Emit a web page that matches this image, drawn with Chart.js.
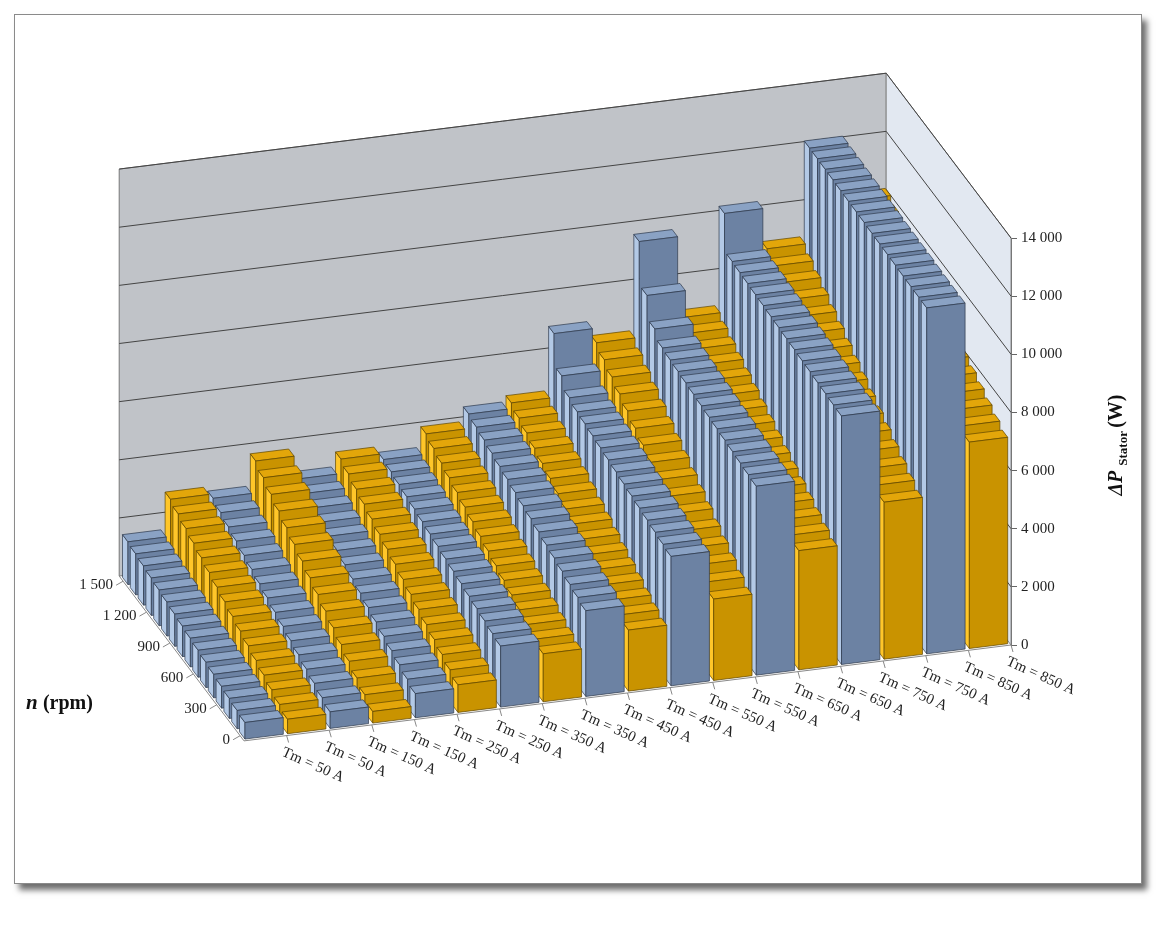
<!DOCTYPE html>
<html>
<head>
<meta charset="utf-8">
<script src="https://cdn.jsdelivr.net/npm/chart.js@4.4.1/dist/chart.umd.min.js"></script>
<style>
  body { margin: 0; background: #fff; }
  #frame { position: absolute; left: 14px; top: 14px; width: 1126px; height: 868px; border: 1px solid #8a8a8a; box-shadow: 5px 6px 6px #6e6e6e; background: #fff; }
  #wrap { position: absolute; left: 0; top: 0; width: 1159px; height: 925px; }
</style>
</head>
<body>
<div id="frame"></div>
<div id="wrap"><canvas id="chart" width="1159" height="925"></canvas></div>
<script>
// Speed rows, front to back
const nRpm = [0, 100, 200, 300, 400, 500, 600, 700, 800, 900, 1000, 1100, 1200, 1300, 1400, 1500];
const nTickRows = [0, 3, 6, 9, 12, 15];
const nTickLabels = ['0', '300', '600', '900', '1 200', '1 500'];

const tmLabels = ['Tm = 50 A', 'Tm = 50 A', 'Tm = 150 A', 'Tm = 150 A', 'Tm = 250 A', 'Tm = 250 A',
  'Tm = 350 A', 'Tm = 350 A', 'Tm = 450 A', 'Tm = 450 A', 'Tm = 550 A', 'Tm = 550 A',
  'Tm = 650 A', 'Tm = 650 A', 'Tm = 750 A', 'Tm = 750 A', 'Tm = 850 A', 'Tm = 850 A'];

const yTicks = [0, 2000, 4000, 6000, 8000, 10000, 12000, 14000];

// Stator loss (W) per column, values for n = 0 ... 1500 rpm
const lossB50  = [570, 630, 690, 750, 810, 870, 930, 990, 1050, 1110, 1170, 1230, 1290, 1350, 1410, 1470];
const lossG50  = [500, 650, 800, 950, 1100, 1250, 1400, 1550, 1700, 1850, 2000, 2150, 2300, 2450, 2600, 2750];
const lossB150 = [570, 700, 840, 970, 1110, 1240, 1380, 1510, 1650, 1780, 1920, 2050, 2190, 2320, 2460, 2600];
const lossG150 = [400, 620, 840, 1060, 1280, 1500, 1720, 1940, 2160, 2380, 2600, 2820, 3040, 3260, 3480, 3700];
const lossB250 = [830, 970, 1110, 1240, 1380, 1520, 1660, 1800, 1930, 2070, 2210, 2350, 2480, 2620, 2760, 2900];
const lossG250 = [950, 1110, 1280, 1440, 1600, 1770, 1930, 2090, 2260, 2420, 2580, 2750, 2910, 3070, 3240, 3400];
const lossB350 = [2100, 2170, 2250, 2320, 2390, 2470, 2540, 2610, 2690, 2760, 2830, 2910, 2980, 3050, 3130, 3200];
const lossG350 = [1650, 1800, 1950, 2100, 2250, 2400, 2550, 2700, 2850, 3000, 3150, 3300, 3450, 3600, 3750, 3900];
const lossB450 = [2950, 3050, 3140, 3240, 3340, 3430, 3530, 3630, 3720, 3820, 3920, 4010, 4110, 4210, 4300, 4400];
const lossG450 = [2100, 2270, 2430, 2600, 2770, 2930, 3100, 3270, 3430, 3600, 3770, 3930, 4100, 4270, 4430, 4600];
const lossB550 = [4450, 4510, 4570, 4630, 4690, 4750, 4810, 4870, 4930, 4990, 5050, 5110, 5170, 5300, 5700, 6800];
const lossG550 = [2800, 3030, 3270, 3500, 3730, 3970, 4200, 4430, 4670, 4900, 5130, 5370, 5600, 5830, 6070, 6300];
const lossB650 = [6500, 6540, 6580, 6620, 6660, 6700, 6740, 6780, 6820, 6860, 6900, 6940, 7000, 7300, 8100, 9600];
const lossG650 = [4100, 4280, 4460, 4640, 4820, 5000, 5180, 5360, 5540, 5720, 5900, 6080, 6260, 6440, 6620, 6800];
const lossB750 = [8550, 8570, 8600, 8620, 8650, 8670, 8700, 8720, 8750, 8770, 8800, 8820, 8850, 8870, 8900, 10200];
const lossG750 = [5400, 5630, 5850, 6080, 6310, 6530, 6760, 6990, 7210, 7440, 7670, 7890, 8120, 8350, 8570, 8800];
const lossB850 = [11900, 11910, 11920, 11930, 11950, 11960, 11970, 11980, 12000, 12010, 12020, 12030, 12050, 12060, 12070, 12080];
const lossG850 = [7100, 7300, 7500, 7700, 7900, 8100, 8300, 8500, 8700, 8900, 9100, 9300, 9500, 9700, 9900, 10100];

const columns = [lossB50, lossG50, lossB150, lossG150, lossB250, lossG250, lossB350, lossG350,
  lossB450, lossG450, lossB550, lossG550, lossB650, lossG650, lossB750, lossG750, lossB850, lossG850];

// Oblique projection settings
const ROW_X = -7.8, ROW_Y = -10.3, COL_SLOPE = 0.125;
const SERIF = '"Liberation Serif", "DejaVu Serif", serif';

const palette = {
  blue: { front: '#6c82a3', side: '#b3c9e6', top: '#8aa2c4', line: '#2e3a4c' },
  gold: { front: '#c99300', side: '#ffc629', top: '#e3a60a', line: '#5e4600' }
};

function fmt(v) { return String(v).replace(/\B(?=(\d{3})+(?!\d))/g, ' '); }

const bars3d = {
  id: 'bars3d',
  beforeDatasetsDraw(chart) {
    const ctx = chart.ctx, P = chart.$proj = makeProj(chart);
    const nR = nRpm.length, cL = -0.5, cR = columns.length - 0.5;
    // back wall
    poly(ctx, [P(cL, nR, 0), P(cR, nR, 0), P(cR, nR, 14000), P(cL, nR, 14000)], '#c0c3c8', '#777');
    // right side wall
    poly(ctx, [P(cR, 0, 0), P(cR, nR, 0), P(cR, nR, 14000), P(cR, 0, 14000)], '#e2e8f1', '#888');
    ctx.lineWidth = 1; ctx.strokeStyle = '#444';
    yTicks.forEach(t => {
      if (t === 0) return;
      line(ctx, [P(cL, nR, t), P(cR, nR, t), P(cR, 0, t)]);
    });
    // floor edges / n axis
    ctx.strokeStyle = '#888';
    line(ctx, [P(cL, nR, 0), P(cL, 0, 0), P(cR, 0, 0)]);
    ctx.fillStyle = '#222'; ctx.font = '15px ' + SERIF;
    ctx.textAlign = 'right'; ctx.textBaseline = 'middle';
    nTickRows.forEach((j, k) => {
      const p = P(cL, j + 0.5, 0);
      line(ctx, [p, [p[0] - 7, p[1] + 4]]);
      ctx.fillText(nTickLabels[k], p[0] - 10, p[1] + 4);
    });
    // category labels along the front edge
    ctx.textAlign = 'left';
    tmLabels.forEach((lab, i) => {
      const p = P(i + 0.5, 0, 0);
      line(ctx, [p, [p[0] + 2, p[1] + 7]]);
      ctx.save();
      ctx.translate(p[0] - 4, p[1] + 16);
      ctx.rotate(0.42);
      ctx.fillText(lab, 0, 0);
      ctx.restore();
    });
  },
  afterDatasetsDraw(chart) {
    const ctx = chart.ctx, P = chart.$proj;
    const list = [];
    columns.forEach((col, i) => col.forEach((v, j) => list.push({ i, j, v, d: i * 0.183 + j })));
    list.sort((a, b) => b.d - a.d);
    ctx.lineWidth = 0.7;
    list.forEach(b => {
      const c = palette[b.i % 2 === 0 ? 'blue' : 'gold'];
      const c0 = b.i - 0.45, c1 = b.i + 0.45, r0 = b.j + 0.15, r1 = b.j + 0.85;
      ctx.strokeStyle = c.line;
      poly(ctx, [P(c0, r0, 0), P(c0, r1, 0), P(c0, r1, b.v), P(c0, r0, b.v)], c.side);
      poly(ctx, [P(c0, r0, b.v), P(c0, r1, b.v), P(c1, r1, b.v), P(c1, r0, b.v)], c.top);
      poly(ctx, [P(c0, r0, 0), P(c1, r0, 0), P(c1, r0, b.v), P(c0, r0, b.v)], c.front);
    });
    // value axis title
    ctx.save();
    ctx.translate(1122, 445);
    ctx.rotate(-Math.PI / 2);
    ctx.fillStyle = '#111'; ctx.textBaseline = 'alphabetic'; ctx.textAlign = 'left';
    const parts = [['italic bold 20px ', 'ΔP ', 0], ['bold 13px ', 'Stator ', 5], ['bold 20px ', '(W)', 0]];
    let w = 0;
    parts.forEach(p => { ctx.font = p[0] + SERIF; w += ctx.measureText(p[1]).width; });
    let x = -w / 2;
    parts.forEach(p => { ctx.font = p[0] + SERIF; ctx.fillText(p[1], x, p[2]); x += ctx.measureText(p[1]).width; });
    ctx.restore();
    // n axis title
    ctx.fillStyle = '#111'; ctx.textAlign = 'left'; ctx.textBaseline = 'middle';
    ctx.font = 'italic bold 21px ' + SERIF; ctx.fillText('n', 26, 704);
    const nw = ctx.measureText('n ').width;
    ctx.font = 'bold 20px ' + SERIF; ctx.fillText('(rpm)', 26 + nw, 704);
  }
};

function makeProj(chart) {
  const xs = chart.scales.x, ys = chart.scales.y;
  const x0 = xs.getPixelForValue(0), colPx = xs.getPixelForValue(1) - x0;
  const nCol = columns.length;
  return (c, r, v) => [
    x0 + c * colPx + r * ROW_X,
    ys.getPixelForValue(v) + (nCol - 0.5 - c) * colPx * COL_SLOPE + r * ROW_Y
  ];
}
function poly(ctx, pts, fill, stroke) {
  ctx.beginPath();
  pts.forEach((p, k) => k ? ctx.lineTo(p[0], p[1]) : ctx.moveTo(p[0], p[1]));
  ctx.closePath();
  if (fill) { ctx.fillStyle = fill; ctx.fill(); }
  if (stroke) ctx.strokeStyle = stroke;
  ctx.stroke();
}
function line(ctx, pts) {
  ctx.beginPath();
  pts.forEach((p, k) => k ? ctx.lineTo(p[0], p[1]) : ctx.moveTo(p[0], p[1]));
  ctx.stroke();
}

new Chart(document.getElementById('chart'), {
  type: 'bar',
  data: { labels: tmLabels, datasets: [] },
  options: {
    responsive: false, animation: false,
    layout: { padding: { left: 244, right: 88, top: 238, bottom: 280 } },
    plugins: { legend: { display: false }, tooltip: { enabled: false } },
    scales: {
      x: { display: false },
      y: {
        position: 'right', min: 0, max: 14000,
        afterFit(s) { s.width = 60; },
        afterBuildTicks(s) { s.ticks = yTicks.map(v => ({ value: v })); },
        grid: { drawOnChartArea: false, drawTicks: true, tickLength: 6, color: '#666' },
        border: { display: true, color: '#666' },
        ticks: { color: '#222', font: { family: SERIF, size: 15 }, padding: 4, callback: v => fmt(v) }
      }
    }
  },
  plugins: [bars3d]
});
</script>
</body>
</html>
